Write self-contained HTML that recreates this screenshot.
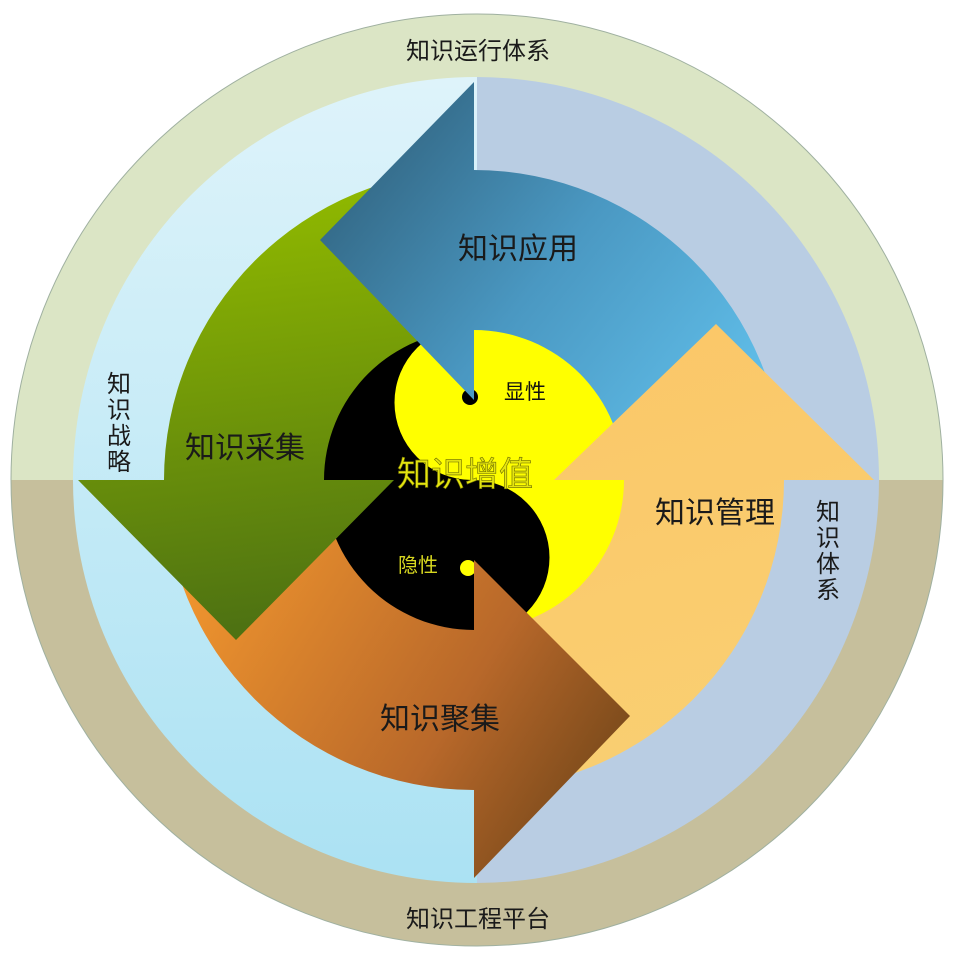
<!DOCTYPE html>
<html><head><meta charset="utf-8"><style>
html,body{margin:0;padding:0;background:#fff;}
svg{display:block;}
text{font-family:"Liberation Sans","Noto Sans CJK SC",sans-serif;}
</style></head><body>
<svg width="960" height="960" viewBox="0 0 960 960" xmlns="http://www.w3.org/2000/svg">
<defs>
<clipPath id="oc"><circle cx="477" cy="480" r="466"/></clipPath>
<clipPath id="ic"><circle cx="476" cy="480" r="403"/></clipPath>
<linearGradient id="lb" x1="0" y1="0" x2="0" y2="1"><stop offset="0" stop-color="#e3f5fb"/><stop offset="1" stop-color="#a6e0f2"/></linearGradient>
<linearGradient id="gb" gradientUnits="userSpaceOnUse" x1="350" y1="100" x2="760" y2="420"><stop offset="0" stop-color="#2f5f7a"/><stop offset="0.5" stop-color="#4a98c2"/><stop offset="1" stop-color="#62c1ec"/></linearGradient>
<linearGradient id="gg" gradientUnits="userSpaceOnUse" x1="250" y1="200" x2="300" y2="620"><stop offset="0" stop-color="#8fb800"/><stop offset="1" stop-color="#4e7212"/></linearGradient>
<linearGradient id="go" gradientUnits="userSpaceOnUse" x1="560" y1="330" x2="700" y2="780"><stop offset="0" stop-color="#fbc768"/><stop offset="1" stop-color="#f9cf72"/></linearGradient>
<linearGradient id="gr" gradientUnits="userSpaceOnUse" x1="200" y1="560" x2="620" y2="820"><stop offset="0" stop-color="#f0952e"/><stop offset="0.6" stop-color="#b8682a"/><stop offset="1" stop-color="#6e4418"/></linearGradient>
</defs>
<g clip-path="url(#oc)">
<rect x="0" y="0" width="960" height="480" fill="#dbe5c5"/>
<rect x="0" y="480" width="960" height="480" fill="#c6bf9c"/>
</g>
<circle cx="477" cy="480" r="466" fill="none" stroke="#9fb0a0" stroke-width="1"/>
<g clip-path="url(#ic)">
<rect x="0" y="0" width="477" height="960" fill="url(#lb)"/>
<rect x="477" y="0" width="483" height="960" fill="#b9cde3"/>
</g>
<!-- yin yang -->
<g transform="translate(472,480)">
<circle r="155" fill="#000"/>
<path d="M0,-155 A155,155 0 0 1 0,155 A77.5,77.5 0 0 0 0,0 A77.5,77.5 0 0 1 0,-155Z" fill="#ffff00"/>
<circle cx="-2" cy="-83" r="8" fill="#000"/>
<circle cx="-4" cy="88" r="8" fill="#ffff00"/>
</g>
<!-- bodies -->
<path d="M474,170 A310,310 0 0 1 784,480 L624,480 A150,150 0 0 0 474,330Z" fill="url(#gb)"/>
<path d="M784,480 A310,310 0 0 1 474,790 L474,630 A150,150 0 0 0 624,480Z" fill="url(#go)"/>
<path d="M474,790 A310,310 0 0 1 164,480 L324,480 A150,150 0 0 0 474,630Z" fill="url(#gr)"/>
<path d="M164,480 A310,310 0 0 1 474,170 L474,330 A150,150 0 0 0 324,480Z" fill="url(#gg)"/>
<!-- heads -->
<polygon points="474,82 474,400 320,240" fill="url(#gb)"/>
<polygon points="554,480 874,480 716,324" fill="url(#go)"/>
<polygon points="474,560 474,878 630,716" fill="url(#gr)"/>
<polygon points="78,480 394,480 236,640" fill="url(#gg)"/>
<!-- labels -->
<g fill="#1a1a1a" font-size="30" text-anchor="middle">
<text x="518" y="259">知识应用</text>
<text x="245" y="458">知识采集</text>
<text x="715" y="523">知识管理</text>
<text x="440" y="729">知识聚集</text>
</g>
<text x="465" y="486" font-size="34" text-anchor="middle" fill="#e4e410" stroke="#6a6a00" stroke-width="0.6">知识增值</text>
<text x="525" y="399" font-size="21" text-anchor="middle" fill="#111">显性</text>
<text x="418" y="572" font-size="20" text-anchor="middle" fill="#d8d820">隐性</text>
<g fill="#1a1a1a" font-size="24" text-anchor="middle">
<text x="478" y="59">知识运行体系</text>
<text x="478" y="927">知识工程平台</text>
</g>
<g fill="#1a1a1a" font-size="24" text-anchor="middle">
<text x="119" y="392">知</text><text x="119" y="418">识</text><text x="119" y="444">战</text><text x="119" y="470">略</text>
<text x="828" y="520">知</text><text x="828" y="546">识</text><text x="828" y="572">体</text><text x="828" y="598">系</text>
</g>
</svg>
</body></html>
